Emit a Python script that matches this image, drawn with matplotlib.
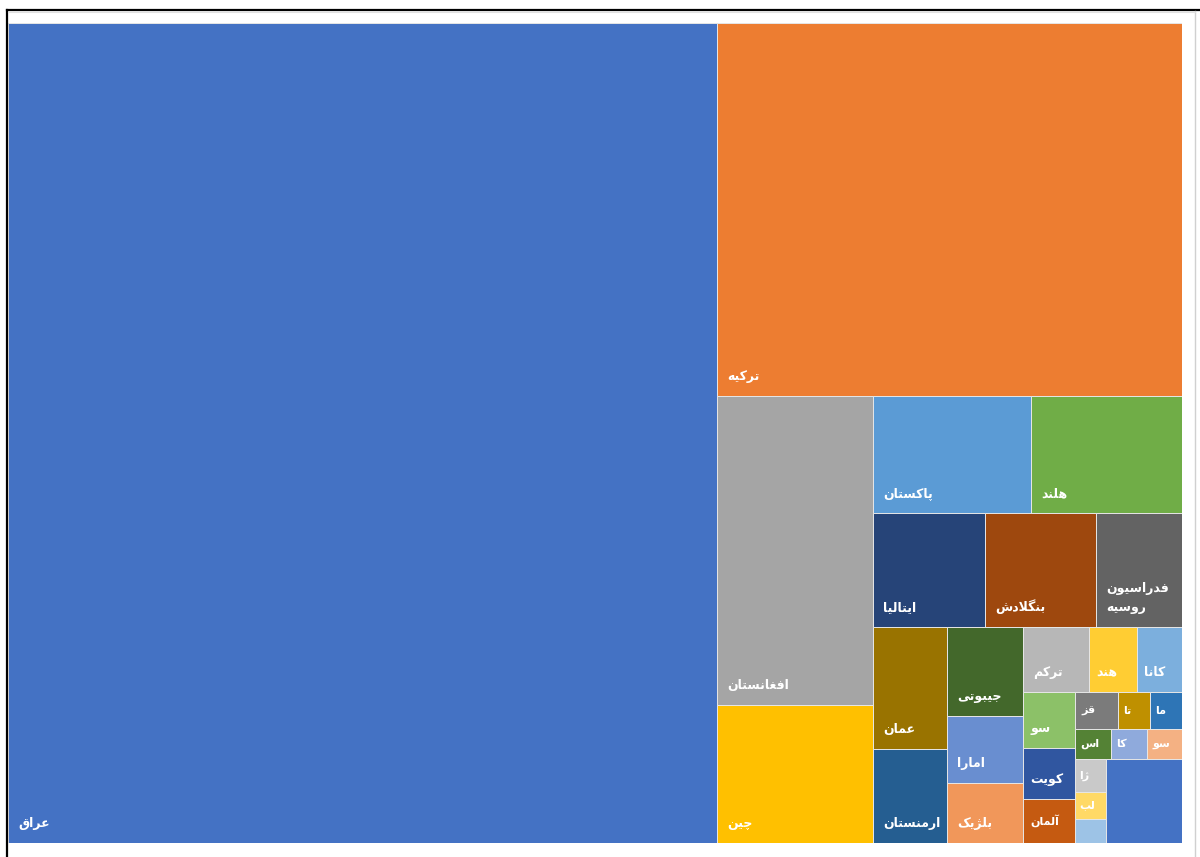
import matplotlib
matplotlib.use("Agg")
import matplotlib.pyplot as plt
from matplotlib.patches import Rectangle
from matplotlib.lines import Line2D

# ---------------- data ----------------
countries = ["عراق", "ترکیه", "افغانستان", "چین", "پاکستان", "هلند", "ایتالیا",
             "بنگلادش", "فدراسیون\nروسیه", "عمان", "ارمنستان", "جیبوتی", "امارا",
             "بلژیک", "ترکم", "هند", "کانا", "سو", "کویت", "آلمان", "قز", "تا",
             "ما", "اس", "کا", "سو", "ژا", "لب", "", ""]
values = [579962, 172980, 48048, 21528, 18486, 17667, 12768, 12654, 9804,
          9000, 6950, 6700, 5016, 4560, 4290, 3120, 2925, 2860, 2652, 2288,
          1584, 1160, 1150, 1100, 1080, 1060, 1023, 837, 744, 6384]
colors = ["#4472C4", "#ED7D31", "#A5A5A5", "#FFC000", "#5B9BD5", "#70AD47",
          "#264478", "#9E480E", "#636363", "#997300", "#255E91", "#43682B",
          "#698ED0", "#F1975A", "#B7B7B7", "#FFCD33", "#7CAFDD", "#8CC168",
          "#3056A0", "#C55A11", "#7B7B7B", "#BF9000", "#2E75B6", "#548235",
          "#8FAADC", "#F4B183", "#C9C9C9", "#FFD966", "#9DC3E6", "#4472C4"]

# ---------------- Persian shaping (matplotlib has no complex text layout) ----------------
FORMS = {
    'ا': ('\uFE8D', '\uFE8E', None, None), 'آ': ('\uFE81', '\uFE82', None, None),
    'ب': ('\uFE8F', '\uFE90', '\uFE91', '\uFE92'), 'پ': ('\uFB56', '\uFB57', '\uFB58', '\uFB59'),
    'ت': ('\uFE95', '\uFE96', '\uFE97', '\uFE98'), 'ث': ('\uFE99', '\uFE9A', '\uFE9B', '\uFE9C'),
    'ج': ('\uFE9D', '\uFE9E', '\uFE9F', '\uFEA0'), 'چ': ('\uFB7A', '\uFB7B', '\uFB7C', '\uFB7D'),
    'ح': ('\uFEA1', '\uFEA2', '\uFEA3', '\uFEA4'), 'خ': ('\uFEA5', '\uFEA6', '\uFEA7', '\uFEA8'),
    'د': ('\uFEA9', '\uFEAA', None, None), 'ذ': ('\uFEAB', '\uFEAC', None, None),
    'ر': ('\uFEAD', '\uFEAE', None, None), 'ز': ('\uFEAF', '\uFEB0', None, None),
    'ژ': ('\uFB8A', '\uFB8B', None, None), 'س': ('\uFEB1', '\uFEB2', '\uFEB3', '\uFEB4'),
    'ش': ('\uFEB5', '\uFEB6', '\uFEB7', '\uFEB8'), 'ع': ('\uFEC9', '\uFECA', '\uFECB', '\uFECC'),
    'غ': ('\uFECD', '\uFECE', '\uFECF', '\uFED0'), 'ف': ('\uFED1', '\uFED2', '\uFED3', '\uFED4'),
    'ق': ('\uFED5', '\uFED6', '\uFED7', '\uFED8'), 'ک': ('\uFB8E', '\uFB8F', '\uFB90', '\uFB91'),
    'گ': ('\uFB92', '\uFB93', '\uFB94', '\uFB95'), 'ل': ('\uFEDD', '\uFEDE', '\uFEDF', '\uFEE0'),
    'م': ('\uFEE1', '\uFEE2', '\uFEE3', '\uFEE4'), 'ن': ('\uFEE5', '\uFEE6', '\uFEE7', '\uFEE8'),
    'و': ('\uFEED', '\uFEEE', None, None), 'ه': ('\uFEE9', '\uFEEA', '\uFEEB', '\uFEEC'),
    'ی': ('\uFBFC', '\uFBFD', '\uFBFE', '\uFBFF'), 'ئ': ('\uFE89', '\uFE8A', '\uFE8B', '\uFE8C'),
}
LAM_ALEF = {'ا': ('\uFEFB', '\uFEFC'), 'آ': ('\uFEF5', '\uFEF6')}


def shape_line(s):
    out = []
    i, n = 0, len(s)
    while i < n:
        c = s[i]
        if c not in FORMS:
            out.append(c)
            i += 1
            continue
        prev = s[i - 1] if i > 0 else None
        jp = prev in FORMS and FORMS[prev][2] is not None
        if c == 'ل' and i + 1 < n and s[i + 1] in LAM_ALEF:
            lig = LAM_ALEF[s[i + 1]]
            out.append(lig[1] if jp else lig[0])
            i += 2
            continue
        nxt = s[i + 1] if i + 1 < n else None
        jn = nxt in FORMS and FORMS[c][2] is not None
        iso, fin, ini, med = FORMS[c]
        if jp and jn:
            out.append(med)
        elif jp:
            out.append(fin)
        elif jn:
            out.append(ini)
        else:
            out.append(iso)
        i += 1
    return ''.join(reversed(out))


def shape(s):
    return '\n'.join(shape_line(l) for l in s.split('\n'))


# ---------------- squarified treemap layout ----------------
def worst(row, side):
    s = sum(row)
    return max(side * side * max(row) / (s * s), (s * s) / (side * side * min(row)))


def squarify(vals, x, y, w, h):
    total = sum(vals)
    vals = [v * w * h / total for v in vals]
    rects = []
    i, n = 0, len(vals)
    while i < n:
        side = min(w, h)
        row = [vals[i]]
        i += 1
        while i < n and worst(row + [vals[i]], side) <= worst(row, side):
            row.append(vals[i])
            i += 1
        s = sum(row)
        if w >= h:
            t = s / h
            yy = y
            for v in row:
                rh = v / t
                rects.append((x, yy, t, rh))
                yy += rh
            x += t
            w -= t
        else:
            t = s / w
            xx = x
            for v in row:
                rw = v / t
                rects.append((xx, y, rw, t))
                xx += rw
            y += t
            h -= t
    return rects


W, H = 1174.0, 820.0
rects = squarify(values, 0.0, 0.0, W, H)

fig = plt.figure(figsize=(12, 8.57), dpi=100)
ax = fig.add_axes([8 / 1200, (857 - 843) / 857, 1174 / 1200, 820 / 857])
ax.set_xlim(0, W)
ax.set_ylim(H, 0)
ax.axis("off")

for (x, y, w, h), lab, col in zip(rects, countries, colors):
    ax.add_patch(Rectangle((x, y), w, h, facecolor=col, edgecolor="#e6e6e6",
                           linewidth=0.7))
    if lab:
        tx = x + min(10, w * 0.15)
        if h > 45:
            ax.text(tx, y + h - 13, shape(lab), color="white", fontsize=9,
                    fontweight="bold", ha="left", va="bottom",
                    family="DejaVu Sans", linespacing=1.6)
        else:
            ax.text(tx, y + h / 2, shape(lab), color="white", fontsize=8,
                    fontweight="bold", ha="left", va="center",
                    family="DejaVu Sans")

# figure frame
fig.add_artist(Line2D([7 / 1200, 7 / 1200], [0, 1 - 9.5 / 857], color="black", lw=1.6))
fig.add_artist(Line2D([7 / 1200, 1], [1 - 9.5 / 857, 1 - 9.5 / 857], color="black", lw=1.6))
fig.add_artist(Line2D([1195 / 1200, 1195 / 1200], [0, 1 - 11 / 857], color="#d0d0d0", lw=1.0))
fig.add_artist(Line2D([8 / 1200, 1195 / 1200], [1 - 11.5 / 857, 1 - 11.5 / 857], color="#e0e0e0", lw=0.8))

fig.savefig("out.png", dpi=100)
